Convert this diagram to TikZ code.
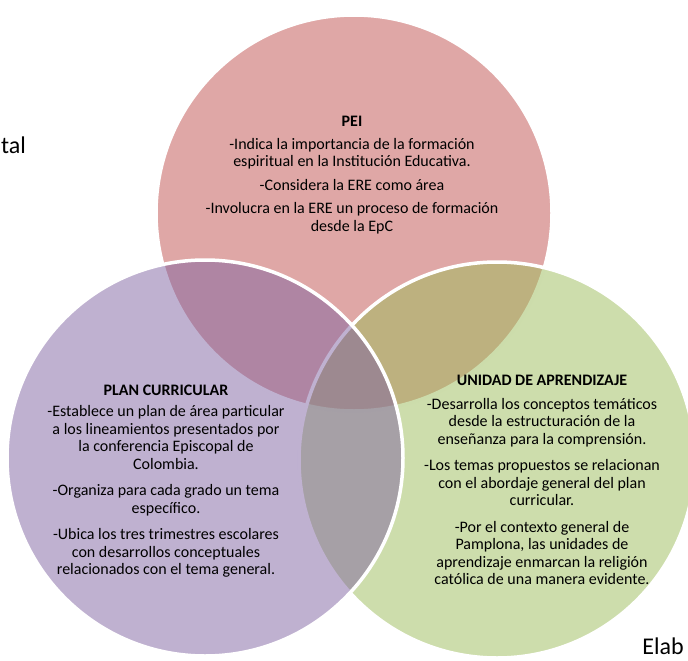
\documentclass[tikz,border=0pt]{standalone}
\usepackage{fontspec}
\setmainfont{Carlito}

\definecolor{peired}{HTML}{C0504D}
\definecolor{unidadgreen}{HTML}{9BBB59}
\definecolor{planpurple}{HTML}{8064A2}

\tikzset{
  venn/.style={circle, draw=white, line width=3.5pt, fill opacity=0.5,
    minimum size=396pt, inner sep=0pt},
  venntext/.style={align=center, text=black,
    font=\fontsize{16}{17.5}\selectfont},
  cuttext/.style={text=black, font=\fontsize{24}{28}\selectfont, inner sep=0pt}
}

\begin{document}
\begin{tikzpicture}[x=1pt, y=-1pt]
  \useasboundingbox (0,0) rectangle (688,661);
  % circles: top, right, left
  \node [venn, fill=peired] (peicirc) at (354,213) {};
  \node [venn, fill=unidadgreen] (unidadcirc) at (497,460) {};
  \node [venn, fill=planpurple] (plancirc) at (205,458) {};

  \node [venntext] (pei) at (352,175) {\textbf{PEI}\\[5pt]
    -Indica la importancia de la formación\\
    espiritual en la Institución Educativa.\\[6pt]
    -Considera la ERE como área\\[6pt]
    -Involucra en la ERE un proceso de formación\\
    desde la EpC};
  \node [venntext] (plan) at (166,481) {\textbf{PLAN CURRICULAR}\\[4pt]
    -Establece un plan de área particular\\
    a los lineamientos presentados por\\
    la conferencia Episcopal de\\
    Colombia.\\[9pt]
    -Organiza para cada grado un tema\\
    específico.\\[9pt]
    -Ubica los tres trimestres escolares\\
    con desarrollos conceptuales\\
    relacionados con el tema general.};
  \node [venntext] (unidad) at (542,480) {\textbf{UNIDAD DE APRENDIZAJE}\\[6pt]
    -Desarrolla los conceptos temáticos\\
    desde la estructuración de la\\
    enseñanza para la comprensión.\\[9pt]
    -Los temas propuestos se relacionan\\
    con el abordaje general del plan\\
    curricular.\\[9pt]
    -Por el contexto general de\\
    Pamplona, las unidades de\\
    aprendizaje enmarcan la religión\\
    católica de una manera evidente.};

  \node [cuttext, anchor=base west] (tal) at (1,153) {tal};
  \node [cuttext, anchor=base east] (elab) at (684,654) {Elab};
\end{tikzpicture}
\end{document}
